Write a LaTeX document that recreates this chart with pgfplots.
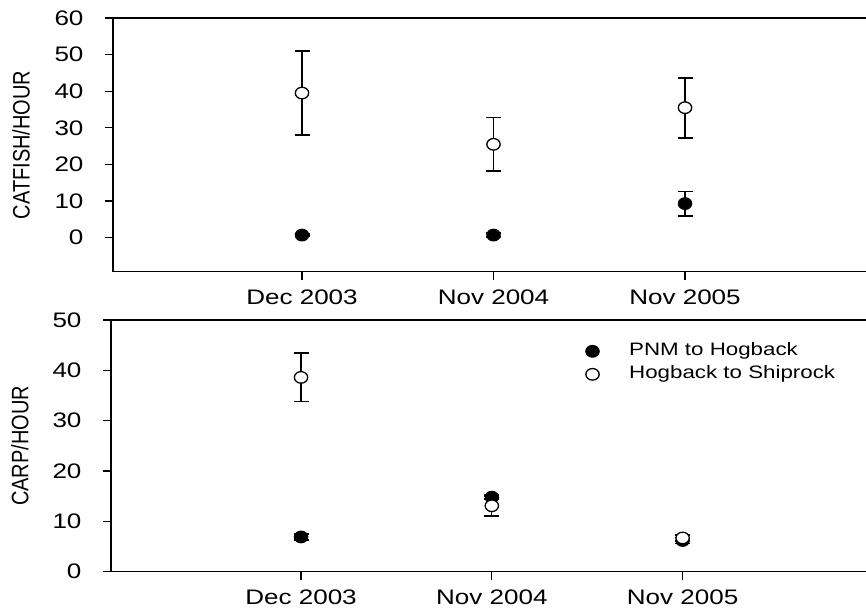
\documentclass[border=0pt]{standalone}
\usepackage{pgfplots}
\pgfplotsset{compat=1.18}
\usepackage{graphicx}
\usepackage{fontspec}
\setmainfont{Liberation Sans}[FakeStretch=1.24]
\newfontfamily\labfont{Liberation Sans}

\pgfplotsset{
  panel/.style={
    scale only axis,
    anchor=south west,
    clip=false,
    axis line style={line width=1.4pt},
    tick style={line width=1.3pt, black},
    major tick length=8pt,
    tick align=outside,
    xtick pos=bottom, ytick pos=left,
    xtick={0,1,2},
    xticklabels={Dec 2003, Nov 2004, Nov 2005},
    xmax=3,
    tick label style={font=\fontsize{21}{21}\selectfont},
    xticklabel style={yshift=-7pt},
    yticklabel style={xshift=-18pt},
    /pgf/number format/assume math mode=true,
    every axis y label/.style={rotate=90, anchor=center},
  },
  markbase/.style={
    only marks, mark=*, mark size=5.8pt,
    error bars/y dir=both, error bars/y explicit,
    error bars/error bar style={line width=1.3pt, black},
    error bars/error mark=|,
    error bars/error mark options={mark size=7.5pt, line width=1.7pt, black},
  },
  filledmark/.style={markbase, mark options={xscale=1.15, fill=black, draw=black, line width=1.2pt}},
  openmark/.style={markbase, mark options={xscale=1.15, fill=white, draw=black, line width=1.3pt}},
}

\begin{document}
\begin{tikzpicture}
% Catfish catch rate
\begin{axis}[panel,
  at={(113pt,341.3pt)}, width=763.5pt, height=253.7pt,
  xmin=-0.987, ymin=-9.3, ymax=60,
  ytick={0,10,...,60},
  ylabel={\scalebox{1}[1.19]{\labfont\fontsize{20}{20}\selectfont CATFISH/HOUR}},
  ylabel style={at={(axis description cs:-0.1205,0.5)}},
]
\addplot+[filledmark] table[x=x, y=y, y error=e] {
x y e
0 0.7 0.3
1 0.7 0.5
2 9.3 3.3
};
\addplot+[openmark] table[x=x, y=y, y error=e] {
x y e
0 39.5 11.4
1 25.5 7.3
2 35.5 8.2
};
\end{axis}

% Carp catch rate
\begin{axis}[panel,
  at={(111pt,41.3pt)}, width=762.4pt, height=251.7pt,
  xmin=-0.996, ymin=0, ymax=50,
  ytick={0,10,...,50},
  ylabel={\scalebox{1}[1.19]{\labfont\fontsize{20}{20}\selectfont CARP/HOUR}},
  ylabel style={at={(axis description cs:-0.1196,0.5)}},
  legend style={draw=none, fill=none, font=\fontsize{18}{18}\selectfont,
    at={(axis cs:1.476,46.5)}, anchor=north west, column sep=27pt,
    nodes={inner sep=3pt, text height=13pt, text depth=4pt}},
  legend cell align=left,
]
\addplot+[filledmark] table[x=x, y=y, y error=e] {
x y e
0 6.9 0.6
1 14.8 0.4
2 6.2 0.6
};
\addlegendentry{PNM to Hogback}
\addplot+[openmark] table[x=x, y=y, y error=e] {
x y e
0 38.6 4.8
1 13.1 2.0
2 6.7 0.6
};
\addlegendentry{Hogback to Shiprock}
\end{axis}

\pgfresetboundingbox
\path[use as bounding box] (0pt,0pt) rectangle (866pt,613pt);
\end{tikzpicture}
\end{document}
